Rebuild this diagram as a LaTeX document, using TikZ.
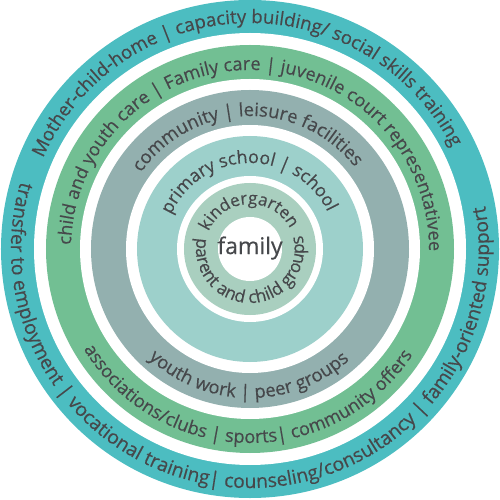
\documentclass[tikz,border=0pt]{standalone}
\usepackage{fontspec}
\setmainfont{Open Sans}
\newfontfamily\ringfont{Open Sans}[FakeBold=0.4]
\usetikzlibrary{decorations.text}
\definecolor{cteal}{HTML}{4CBDC1}
\definecolor{cgreen}{HTML}{72BF93}
\definecolor{cgray}{HTML}{93B0AF}
\definecolor{clteal}{HTML}{9DD0CB}
\definecolor{cpale}{HTML}{A9CFBF}
\definecolor{ctxt}{HTML}{46484B}
\tikzset{
  ringtxt/.style={decorate, decoration={text along path, text format delimiters={[}{]},
     text align={center}, text color=ctxt, text={#1}}},
}
\newcommand\rtext[5]{\path[ringtxt={[\ringfont\fontsize{#4}{#4}\selectfont]#5}] (#1:#3) arc[start angle=#1, end angle=#2, radius=#3];}
\begin{document}
\begin{tikzpicture}[x=1pt,y=1pt]
\useasboundingbox (-250,-251) rectangle (250,249);
\fill[white] (-250,-251) rectangle (250,249);
% rings
\fill[cteal] (0,0) circle[radius=249];
\fill[white] (0,0) circle[radius=216];
\fill[cgreen] (0,0) circle[radius=204];
\fill[white] (0,0) circle[radius=170];
\fill[cgray] (0,0) circle[radius=159];
\fill[white] (0,0) circle[radius=124];
\fill[clteal] (0,0) circle[radius=113];
\fill[white] (0,0) circle[radius=73];
\fill[cpale] (0,0) circle[radius=66];
\fill[white] (0,0) circle[radius=32];
% texts
\rtext{181.5}{1.5}{226}{18.6}{Mother-child-home | capacity building/ social skills training}
\rtext{147}{387}{239}{19.3}{transfer to employment | vocational training| counseling/consultancy | family-oriented support}
\rtext{200}{-22}{179}{18.2}{child and youth care | Family care | juvenile court representativee}
\rtext{180}{358}{194}{18.2}{associations/clubs | sports| community offers}
\rtext{181.5}{1.5}{133}{18.4}{community | leisure facilities}
\rtext{200}{339}{149}{18.4}{youth work | peer groups}
\rtext{181}{1}{86}{17.8}{primary school | school}
\rtext{182}{2}{45}{17}{kindergarten}
\rtext{151.5}{391.5}{54}{17.5}{parent and child groups}
\node[text=ctxt, font=\ringfont\fontsize{23}{23}\selectfont] (fam) at (0,1) {family};
\end{tikzpicture}
\end{document}
